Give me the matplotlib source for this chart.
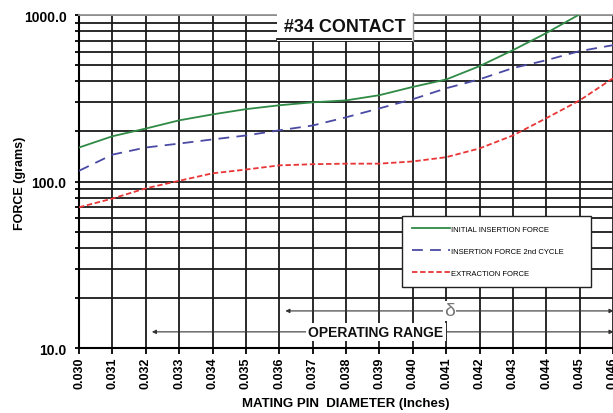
import matplotlib
matplotlib.use("Agg")
import matplotlib.pyplot as plt
import numpy as np
from matplotlib.ticker import MultipleLocator, LogLocator, FormatStrFormatter, NullFormatter
from matplotlib.patches import Rectangle
from matplotlib.lines import Line2D

plt.rcParams['font.family'] = ['Liberation Sans', 'DejaVu Sans']
plt.rcParams['font.weight'] = 'bold'

# pin diameter (inches)
diameter = [0.030, 0.031, 0.032, 0.033, 0.034, 0.035, 0.036, 0.037, 0.038,
            0.039, 0.040, 0.041, 0.042, 0.043, 0.044, 0.045, 0.046]
# forces in grams
initial_insertion = [160, 187, 208, 233, 253, 272, 287, 299, 307,
                     330, 370, 410, 493, 615, 779, 1010, 1300]
insertion_2nd = [116, 145, 160, 169, 179, 189, 203, 217, 243,
                 275, 312, 363, 411, 480, 535, 607, 659]
extraction = [70, 79, 91, 101, 112, 118, 125, 127, 128,
              128, 132, 140, 158, 189, 240, 307, 417]

fig = plt.figure(figsize=(6.13, 4.14), dpi=100)
ax = fig.add_axes([0.1289, 0.157, 0.8711, 0.8043])

ax.set_yscale('log')
ax.set_xlim(0.030, 0.046)
ax.set_ylim(10, 1000)

ax.xaxis.set_major_locator(MultipleLocator(0.001))
ax.xaxis.set_major_formatter(FormatStrFormatter('%.3f'))
ax.yaxis.set_major_locator(LogLocator(base=10))
ax.yaxis.set_minor_locator(LogLocator(base=10, subs=np.arange(2, 10)))
ax.yaxis.set_major_formatter(FormatStrFormatter('%.1f'))
ax.yaxis.set_minor_formatter(NullFormatter())

ax.grid(which='both', color='#1a1a1a', linewidth=1.3)
ax.tick_params(axis='x', which='both', rotation=90, labelsize=9, length=4, width=1.3, pad=2)
ax.tick_params(axis='y', which='both', labelsize=10, length=3, width=1.3, pad=6)
for lbl in ax.get_xticklabels() + ax.get_yticklabels():
    lbl.set_fontweight('bold')

for s in ['top', 'right']:
    ax.spines[s].set_color('#999999')
ax.spines['left'].set_linewidth(1.5)
ax.spines['bottom'].set_linewidth(1.5)
ax.spines['top'].set_linewidth(1.3)

ax.plot(diameter, initial_insertion, color='#2f8a45', lw=1.3,
        label='INITIAL INSERTION FORCE', zorder=4)
ax.plot(diameter, insertion_2nd, color='#4a4aa5', lw=1.3, dashes=(6, 4),
        label='INSERTION FORCE 2nd CYCLE', zorder=4)
ax.plot(diameter, extraction, color='#e83535', lw=1.3, dashes=(3, 1.5),
        label='EXTRACTION FORCE', zorder=4)

leg = ax.legend(loc='upper left', bbox_to_anchor=(398 / 613, 1 - 213 / 414, 197 / 613, 0.0),
                bbox_transform=fig.transFigure, mode='expand', fontsize=5.5,
                frameon=True, fancybox=False, edgecolor='#222222', framealpha=1,
                borderpad=1.3, labelspacing=1.9, handlelength=5.0, handletextpad=0.1)
leg.get_frame().set_linewidth(1.0)
leg.set_zorder(6)
for t in leg.get_texts():
    t.set_fontweight('normal')

# range arrows
ax.annotate('', xy=(0.0461, 16.7), xytext=(0.0361, 16.7), annotation_clip=False,
            arrowprops=dict(arrowstyle='<|-|>', color='#333333', lw=0.8, mutation_scale=6),
            zorder=5)
ax.text(0.0411, 16.7, 'δ', ha='center', va='center', fontsize=14, fontweight='normal',
        color='#777777', zorder=6,
        bbox=dict(facecolor='white', edgecolor='none', pad=1))
ax.annotate('', xy=(0.0461, 12.5), xytext=(0.0321, 12.5), annotation_clip=False,
            arrowprops=dict(arrowstyle='<|-|>', color='#333333', lw=0.8, mutation_scale=6),
            zorder=5)
ax.text(0.0389, 12.5, 'OPERATING RANGE', ha='center', va='center', fontsize=10,
        fontweight='bold', color='#111111', zorder=6,
        bbox=dict(facecolor='white', edgecolor='none', pad=1.5))

# title box
fig.patches.append(Rectangle((277 / 613, 1 - 42 / 414), 136 / 613, 28 / 414,
                             transform=fig.transFigure, facecolor='white',
                             edgecolor='none', zorder=5))
fig.lines.append(Line2D([413 / 613, 413 / 613], [1 - 14 / 414, 1 - 42 / 414],
                        transform=fig.transFigure, color='#999999', lw=1.0, zorder=6))
fig.lines.append(Line2D([277 / 613, 411 / 613], [1 - 40 / 414, 1 - 40 / 414],
                        transform=fig.transFigure, color='#111111', lw=1.3, zorder=6))
fig.text(345 / 613, 1 - 28 / 414, '#34 CONTACT', ha='center', va='center',
         fontsize=13, fontweight='bold', color='#111111', zorder=7)

fig.text(20 / 613, 1 - 183 / 414, 'FORCE (grams)', rotation=90, ha='center', va='center',
         fontsize=9, fontweight='bold')
fig.text(346 / 613, 1 - 404 / 414, 'MATING PIN  DIAMETER (Inches)', ha='center',
         va='center', fontsize=9.5, fontweight='bold')

fig.savefig('out.png', dpi=100)
